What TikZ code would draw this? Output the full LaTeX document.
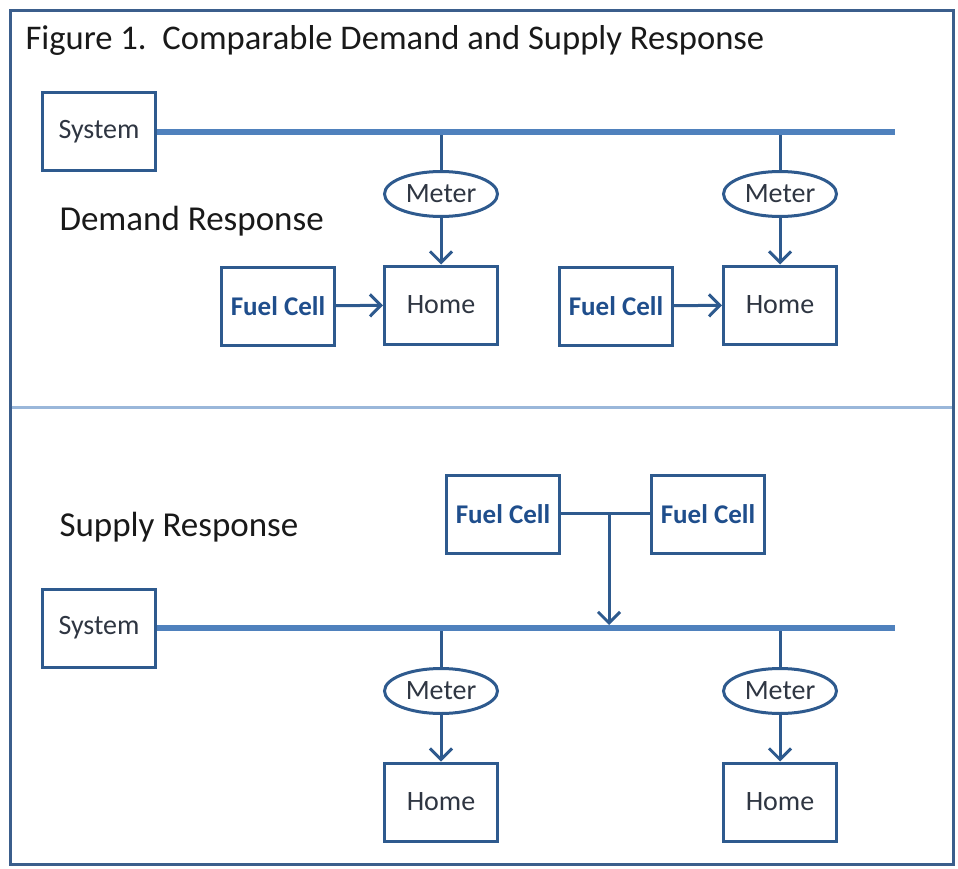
\documentclass[tikz,border=0pt]{standalone}
\usepackage{fontspec}
\setmainfont{Carlito}
\usetikzlibrary{arrows.meta,shapes.geometric}
\definecolor{busc}{HTML}{4F81BD}
\definecolor{edgec}{HTML}{2E5A8E}
\definecolor{framec}{HTML}{3B5E8C}
\definecolor{dividerc}{HTML}{9AB7DA}
\definecolor{txtc}{HTML}{2F3642}
\definecolor{fctxt}{HTML}{1F4E8C}
\begin{document}
\begin{tikzpicture}[x=1pt,y=-1pt,
  box/.style={draw=edgec, line width=3pt, minimum width=113pt, minimum height=78pt, inner sep=0pt, fill=white, font=\fontsize{28}{32}\selectfont, text=txtc},
  fcbox/.style={box, text=fctxt, font=\bfseries\fontsize{27}{31}\selectfont},
  meter/.style={ellipse, draw=edgec, line width=3pt, minimum width=113pt, minimum height=45pt, inner sep=0pt, fill=white, font=\fontsize{28}{32}\selectfont, text=txtc},
  busline/.style={draw=busc, line width=5.5pt},
  link/.style={draw=edgec, line width=3pt},
  arr/.style={link, -{Straight Barb[length=11pt,width=22pt]}},
  heading/.style={anchor=base west, font=\fontsize{35}{39}\selectfont, text=black!90}
]
\useasboundingbox (0,0) rectangle (958,869);
\draw[framec, line width=3pt] (10,11) rectangle (953,864);
\draw[dividerc, line width=3pt] (11.5,407) -- (951.5,407);

\node[heading, font=\fontsize{34.6}{38}\selectfont] (title) at (22,50) {Figure 1.\ \ Comparable Demand and Supply Response};
\node[heading] (dr) at (56,230) {Demand Response};
\node[heading] (sr) at (56,536) {Supply Response};

% ---- Demand response
\node[box] (sys1) at (99,132) {System};
\coordinate (end1) at (895,132);
\coordinate (j1) at (441,132);
\coordinate (j2) at (780,132);
\node[meter] (m1) at (441,194) {Meter};
\node[meter] (m2) at (780,194) {Meter};
\node[box] (h1) at (441,305) {Home};
\node[box] (h2) at (780,305) {Home};
\node[fcbox] (f1) at (278,306) {Fuel Cell};
\node[fcbox] (f2) at (616,306) {Fuel Cell};
\draw[link] (j1) -- (m1.north);
\draw[link] (j2) -- (m2.north);
\draw[busline] (sys1.east) -- (end1);
\draw[arr] (m1) -- (h1);
\draw[arr] (m2) -- (h2);
\draw[arr] (f1) -- (h1);
\draw[arr] (f2) -- (h2);

% ---- Supply response
\node[box] (sys2) at (99,628) {System};
\coordinate (end2) at (895,628);
\coordinate (j3) at (441,628);
\coordinate (j4) at (780,628);
\node[fcbox] (f3) at (503,514) {Fuel Cell};
\node[fcbox] (f4) at (708,514) {Fuel Cell};
\coordinate (fj) at (609,513);
\coordinate (fb) at (609,625);
\node[meter] (m3) at (441,691) {Meter};
\node[meter] (m4) at (780,691) {Meter};
\node[box] (h3) at (441,802) {Home};
\node[box] (h4) at (780,802) {Home};
\draw[link] (f3.east |- fj) -- (f4.west |- fj);
\draw[link] (j3) -- (m3.north);
\draw[link] (j4) -- (m4.north);
\draw[busline] (sys2.east) -- (end2);
\draw[arr] (fj) -- (fb);
\draw[arr] (m3) -- (h3);
\draw[arr] (m4) -- (h4);
\end{tikzpicture}
\end{document}
